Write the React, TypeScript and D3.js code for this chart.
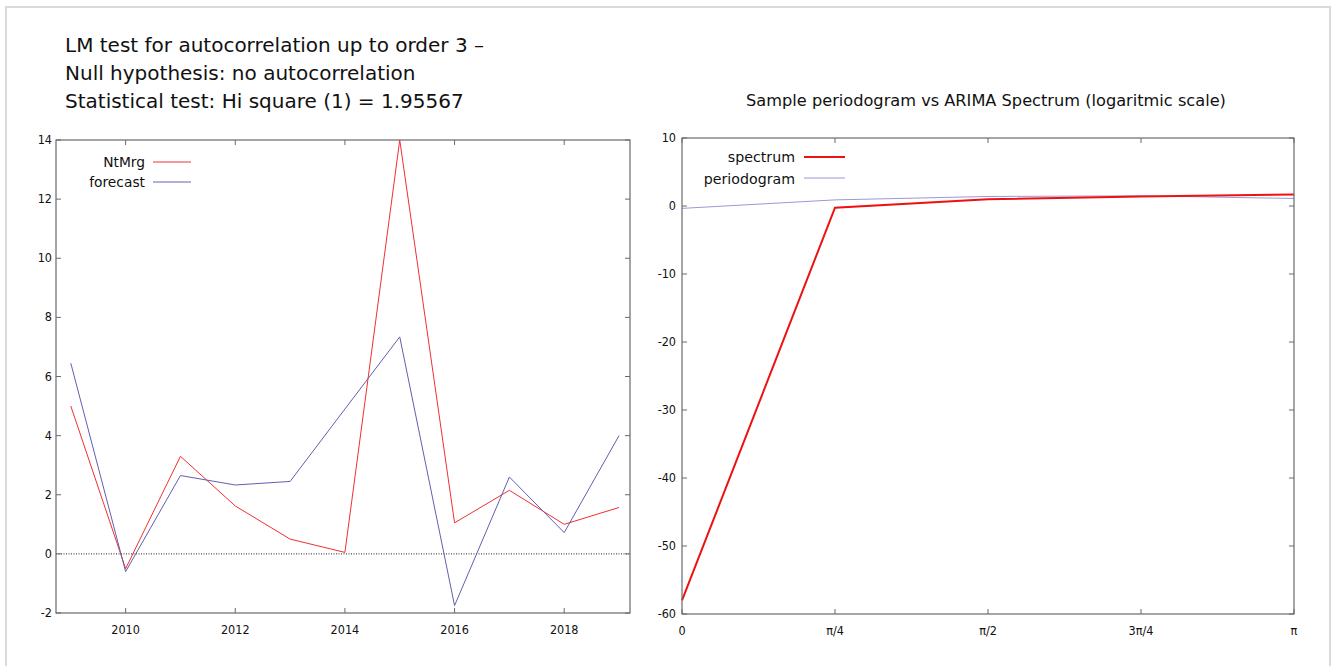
import React from "react";
import { scaleLinear, line, range } from "d3";

// left chart: NtMrg vs forecast
const years = [2009, 2010, 2011, 2012, 2013, 2014, 2015, 2016, 2017, 2018, 2019];
const ntMrg = [5.0, -0.5, 3.3, 1.62, 0.5, 0.05, 14.0, 1.05, 2.15, 1.0, 1.57];
const forecast = [6.45, -0.6, 2.65, 2.33, 2.45, 4.9, 7.34, -1.75, 2.6, 0.72, 4.0];
const leftYTicks = range(-2, 15, 2);
const leftXTicks = [2010, 2012, 2014, 2016, 2018];

// right chart: spectrum vs periodogram
const freqs = [0, Math.PI / 4, Math.PI / 2, (3 * Math.PI) / 4, Math.PI];
const freqLabels = ["0", "π/4", "π/2", "3π/4", "π"];
const spectrum = [-58, -0.25, 1.0, 1.4, 1.7];
const periodogram = [-0.35, 0.9, 1.4, 1.5, 1.1];
const rightYTicks = range(-60, 11, 10);

const titleLines = [
  "LM test for autocorrelation up to order 3 –",
  "Null hypothesis: no autocorrelation",
  "Statistical test: Hi square (1) = 1.95567",
];

const sans = "'DejaVu Sans', Verdana, sans-serif";
const narrow = "'Liberation Sans Narrow', 'DejaVu Sans Condensed', sans-serif";
const frame = "#6a6a6a";
const red = "#f03030";
const blue = "#6060b0";

function App() {
  const xL = scaleLinear().domain([2008.73, 2019.2]).range([56, 630]);
  const yL = scaleLinear().domain([-2, 14]).range([613, 140]);
  const xR = scaleLinear().domain([0, Math.PI]).range([682, 1294]);
  const yR = scaleLinear().domain([-60, 10]).range([614, 138]);

  const lineL = line<number>()
    .x((_, i) => xL(years[i]))
    .y((d) => yL(d));
  const lineR = line<number>()
    .x((_, i) => xR(freqs[i]))
    .y((d) => yR(d));

  const [l0, l1] = xL.range();
  const [lb, lt] = yL.range();
  const [r0, r1] = xR.range();
  const [rb, rt] = yR.range();

  return (
    <svg
      width={1332}
      height={666}
      style={{ position: "absolute", left: 0, top: 0, background: "#fff" }}
    >
      <rect x={6} y={7} width={1324} height={680} fill="none" stroke="#dadada" strokeWidth={2} />

      {titleLines.map((t, i) => (
        <text key={i} x={65} y={52 + i * 28} fontFamily={sans} fontSize={20} fill="#111">
          {t}
        </text>
      ))}
      <text x={986} y={106} textAnchor="middle" fontFamily={sans} fontSize={16.2} fill="#111">
        Sample periodogram vs ARIMA Spectrum (logaritmic scale)
      </text>

      {/* left chart */}
      <g>
        <line x1={l0} x2={l1} y1={yL(0)} y2={yL(0)} stroke="#222" strokeWidth={1} strokeDasharray="1,1.5" />
        {leftYTicks.map((t) => (
          <g key={t}>
            <line x1={l0} x2={l0 + 5} y1={yL(t)} y2={yL(t)} stroke={frame} />
            <line x1={l1} x2={l1 - 5} y1={yL(t)} y2={yL(t)} stroke={frame} />
            <text x={l0 - 4} y={yL(t) + 4} textAnchor="end" fontFamily={narrow} fontSize={12.5} fill="#111">
              {t}
            </text>
          </g>
        ))}
        {leftXTicks.map((t) => (
          <g key={t}>
            <line x1={xL(t)} x2={xL(t)} y1={lb} y2={lb - 5} stroke={frame} />
            <line x1={xL(t)} x2={xL(t)} y1={lt} y2={lt + 5} stroke={frame} />
            <text x={xL(t)} y={lb + 21} textAnchor="middle" fontFamily={narrow} fontSize={12.5} fill="#111">
              {t}
            </text>
          </g>
        ))}
        <path d={lineL(ntMrg) ?? ""} fill="none" stroke={red} strokeWidth={1} />
        <path d={lineL(forecast) ?? ""} fill="none" stroke={blue} strokeWidth={1} />
        <rect x={l0} y={lt} width={l1 - l0} height={lb - lt} fill="none" stroke={frame} strokeWidth={1.2} />

        <text x={145} y={167} textAnchor="end" fontFamily={sans} fontSize={13.8} fill="#111">NtMrg</text>
        <line x1={153} x2={191} y1={162} y2={162} stroke={red} />
        <text x={145} y={187} textAnchor="end" fontFamily={sans} fontSize={13.8} fill="#111">forecast</text>
        <line x1={153} x2={191} y1={182} y2={182} stroke={blue} />
      </g>

      {/* right chart */}
      <g>
        {rightYTicks.map((t) => (
          <g key={t}>
            <line x1={r0} x2={r0 + 5} y1={yR(t)} y2={yR(t)} stroke={frame} />
            <line x1={r1} x2={r1 - 5} y1={yR(t)} y2={yR(t)} stroke={frame} />
            <text x={r0 - 6} y={yR(t) + 4} textAnchor="end" fontFamily={narrow} fontSize={12.5} fill="#111">
              {t}
            </text>
          </g>
        ))}
        {freqs.map((f, i) => (
          <g key={i}>
            <line x1={xR(f)} x2={xR(f)} y1={rb} y2={rb - 5} stroke={frame} />
            <line x1={xR(f)} x2={xR(f)} y1={rt} y2={rt + 5} stroke={frame} />
            <text x={xR(f)} y={rb + 21} textAnchor="middle" fontFamily={narrow} fontSize={12.5} fill="#111">
              {freqLabels[i]}
            </text>
          </g>
        ))}
        <path d={lineR(periodogram) ?? ""} fill="none" stroke="#9a9ad6" strokeWidth={1} />
        <path d={lineR(spectrum) ?? ""} fill="none" stroke="#ee1111" strokeWidth={2} />
        <rect x={r0} y={rt} width={r1 - r0} height={rb - rt} fill="none" stroke={frame} strokeWidth={1.2} />

        <text x={795} y={162} textAnchor="end" fontFamily={sans} fontSize={14.2} fill="#111">spectrum</text>
        <line x1={804} x2={845} y1={157} y2={157} stroke="#ee1111" strokeWidth={2} />
        <text x={795} y={184} textAnchor="end" fontFamily={sans} fontSize={14.2} fill="#111">periodogram</text>
        <line x1={804} x2={845} y1={178} y2={178} stroke="#9a9ad6" />
      </g>
    </svg>
  );
}

export default App;
